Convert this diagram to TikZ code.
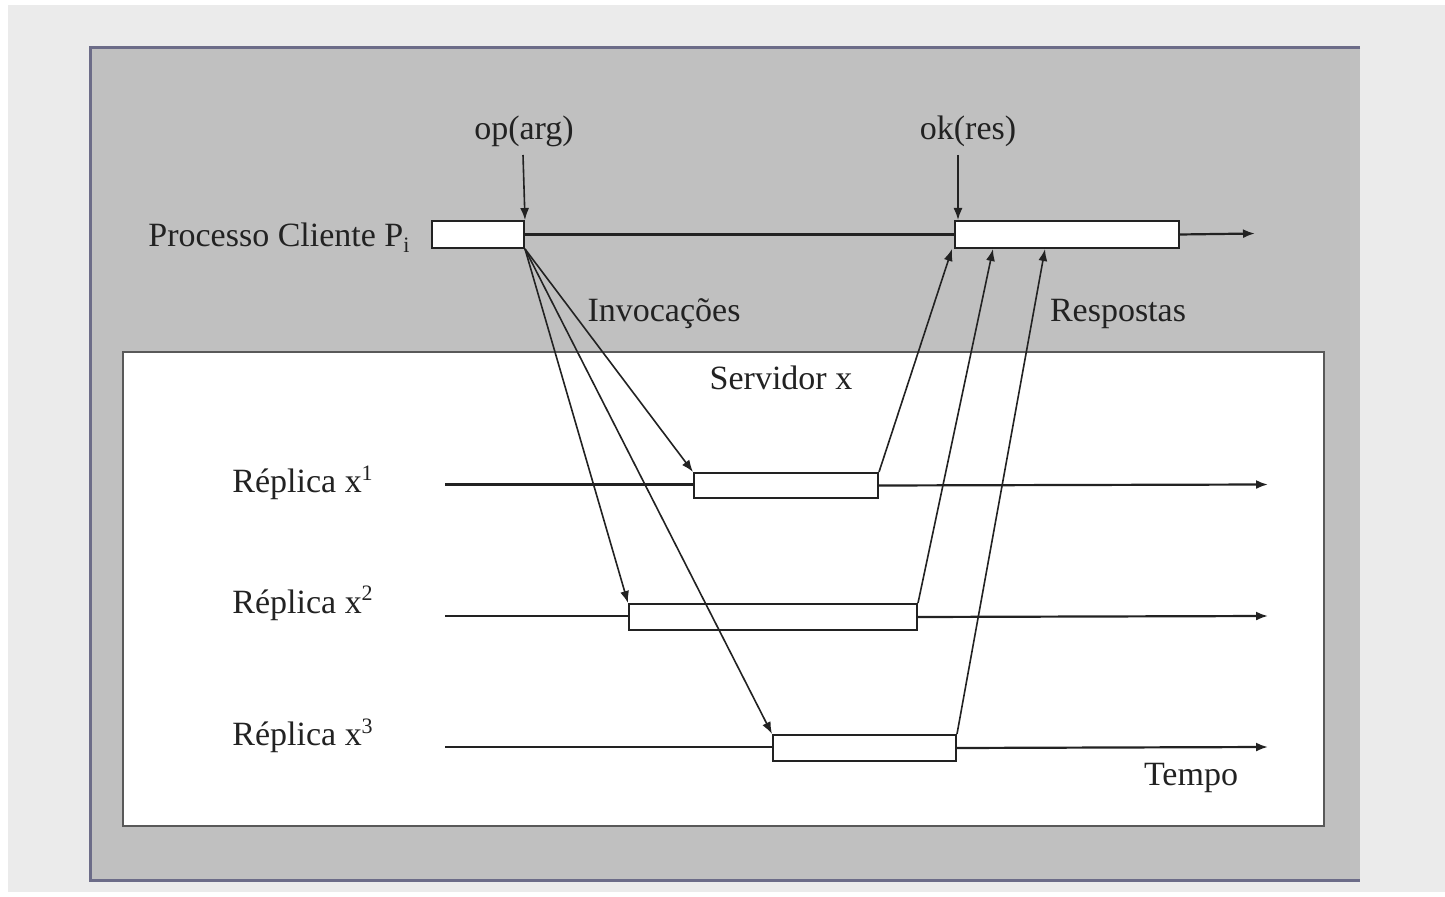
\documentclass[tikz,border=0pt]{standalone}
\usepackage{fontspec}
\setmainfont{Liberation Serif}
\usetikzlibrary{arrows.meta,calc}
\definecolor{pagebg}{HTML}{EBEBEB}
\definecolor{panelgray}{HTML}{C0C0C0}
\definecolor{framec}{HTML}{6C6C88}
\definecolor{inkc}{HTML}{222222}
\begin{document}
\begin{tikzpicture}[x=0.5pt,y=-0.5pt,
  every node/.style={font=\fontsize{17}{20}\selectfont, inner sep=0pt, text=inkc},
  lane/.style={draw=inkc, line width=1.1pt},
  tipped/.style={-{Latex[length=6pt,width=4.5pt]}},
  flow/.style={draw=inkc, line width=0.8pt, tipped},
  actbox/.style={draw=inkc, fill=white, line width=1pt, rectangle,
    anchor=north west, inner sep=0pt}
]
\useasboundingbox (0,0) rectangle (1445,897);
% page and panels
\fill[white] (0,0) rectangle (1445,897);
\fill[pagebg] (8,5) rectangle (1445,892);
\fill[panelgray] (90,48) rectangle (1360,880);
\draw[framec, line width=1.5pt] (1360,48) -- (90,48) -- (90,880) -- (1360,880);
\draw[fill=white, draw=black!65, line width=1pt] (123,352) rectangle (1324,826);

% client process
\node[anchor=base west] (pname) at (148,247) {Processo Cliente P\raisebox{-3pt}{\fontsize{11}{12}\selectfont i}};
\node[actbox, minimum width=46pt, minimum height=13.5pt] (cbox) at (431,220) {};
\node[actbox, minimum width=112pt, minimum height=13.5pt] (okbox) at (954,220) {};
\coordinate (cend) at (1255,233.5);
\draw[lane] (cbox.east) -- (okbox.west);
\draw[lane, tipped] (okbox.east) -- (cend);

% call and return labels
\node[anchor=base] (oplbl) at (524,140) {op(arg)};
\node[anchor=base] (oklbl) at (968,140) {ok(res)};
\coordinate (opstart) at (523,155);
\coordinate (okstart) at (958,155);
\draw[flow] (opstart) -- (cbox.north east);
\draw[flow] (okstart) -- ($(okbox.north west)+(4,0)$);

\node[anchor=base] (inv) at (664,322) {Invocações};
\node[anchor=base] (resp) at (1118,322) {Respostas};
\node[anchor=base] (srv) at (781,390) {Servidor x};

% replicas
\newcommand{\supnum}[1]{\raisebox{6pt}{\fontsize{11}{12}\selectfont #1}}
\node[anchor=base west] (l1) at (232,493) {Réplica x\supnum{1}};
\node[anchor=base west] (l2) at (232,613) {Réplica x\supnum{2}};
\node[anchor=base west] (l3) at (232,745) {Réplica x\supnum{3}};

\coordinate (s1) at (445,484.5);
\coordinate (e1) at (1268,484.5);
\coordinate (s2) at (445,616);
\coordinate (e2) at (1268,616);
\coordinate (s3) at (445,747);
\coordinate (e3) at (1268,747);

\draw[lane] (s1) -- (693,484.5);
\draw[lane] (s2) -- (628,616);
\draw[lane] (s3) -- (772,747);

\node[actbox, minimum width=92pt, minimum height=12.5pt] (r1) at (693,472) {};
\node[actbox, minimum width=144pt, minimum height=13pt] (r2) at (628,603) {};
\node[actbox, minimum width=91.5pt, minimum height=13pt] (r3) at (772,734) {};

\draw[lane, tipped] (r1.east) -- (e1);
\draw[lane, tipped] (r2.east) -- (e2);
\draw[lane, tipped] (r3.east) -- (e3);

\node[anchor=base] (tempo) at (1191,785) {Tempo};

% invocations
\draw[flow] (cbox.south east) -- (r1.north west);
\draw[flow] (cbox.south east) -- (r2.north west);
\draw[flow] (cbox.south east) -- (r3.north west);

% responses
\draw[flow] (r1.north east) -- ($(okbox.south west)+(-2,0)$);
\draw[flow] (r2.north east) -- ($(okbox.south west)+(39,0)$);
\draw[flow] (r3.north east) -- ($(okbox.south west)+(91,0)$);
\end{tikzpicture}
\end{document}
